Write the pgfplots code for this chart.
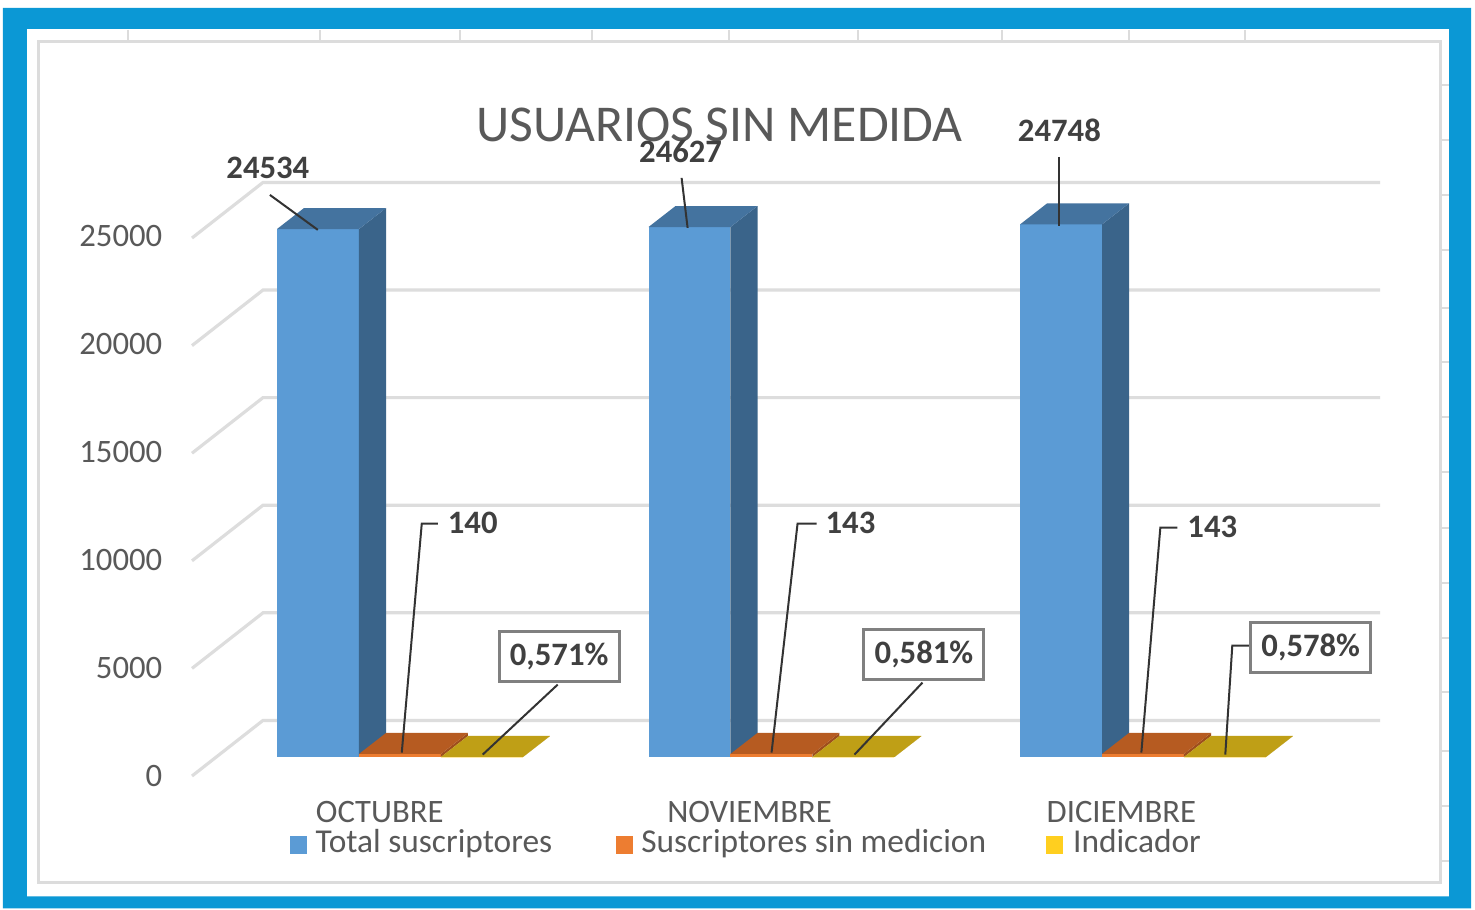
\documentclass[border=0pt]{standalone}
\usepackage{pgfplots}
\pgfplotsset{compat=1.18}
\usepackage{fontspec}
\setmainfont{Carlito}
\definecolor{frameblue}{HTML}{0B98D5}
\definecolor{bordergray}{HTML}{DCDCDC}
\definecolor{gridgray}{HTML}{DDDDDD}
\definecolor{txtgray}{HTML}{595959}
\definecolor{lblgray}{HTML}{404040}
\definecolor{boxgray}{HTML}{808080}
\definecolor{leader}{HTML}{333333}
\definecolor{bfront}{HTML}{5B9BD5}
\definecolor{bside}{HTML}{3A648A}
\definecolor{btop}{HTML}{44739F}
\definecolor{ofront}{HTML}{ED7D31}
\definecolor{oside}{HTML}{9E4E1C}
\definecolor{otop}{HTML}{B65B21}
\definecolor{yfront}{HTML}{FFC000}
\definecolor{yside}{HTML}{A08510}
\definecolor{ytop}{HTML}{BF9F16}
\definecolor{ylegend}{HTML}{FFCF1F}

\newcommand\fcalc[2]{\begingroup\pgfkeys{/pgf/fpu=true,/pgf/fpu/output format=fixed}\pgfmathparse{#2}\xdef#1{\pgfmathresult}\endgroup}
\def\bw{0.2207}\def\ddx{0.0727}\def\ddy{976}
% #1 left x, #2 value, #3 front, #4 side, #5 top
\newcommand\cube[5]{%
 \fcalc\xA{#1}\fcalc\xB{#1+\bw}\fcalc\xC{#1+\bw+\ddx}\fcalc\xD{#1+\ddx}%
 \fcalc\yT{#2}\fcalc\yTT{#2+\ddy}%
 \addplot[fill=#3,draw=none,forget plot] coordinates {(\xA,0) (\xB,0) (\xB,\yT) (\xA,\yT)};
 \addplot[fill=#4,draw=none,forget plot] coordinates {(\xB,0) (\xC,\ddy) (\xC,\yTT) (\xB,\yT)};
 \addplot[fill=#5,draw=none,forget plot] coordinates {(\xA,\yT) (\xB,\yT) (\xC,\yTT) (\xD,\yTT)};
}

\begin{document}
\begin{tikzpicture}
\fill[white] (0,0) rectangle (14.75,9.09);
\begin{axis}[at={(0,0)}, anchor=south west, scale only axis,
  width=14.75cm, height=9.09cm,
  xmin=-1.07402, xmax=2.89637, ymin=-7063, ymax=35178,
  hide axis, clip=false]
% back wall / side wall gridlines
\addplot[gridgray, line width=0.9pt, forget plot] coordinates {(-0.5572,-883) (-0.3661,1700) (2.6407,1700)};
\addplot[gridgray, line width=0.9pt, forget plot] coordinates {(-0.5572,4117) (-0.3661,6700) (2.6407,6700)};
\addplot[gridgray, line width=0.9pt, forget plot] coordinates {(-0.5572,9117) (-0.3661,11700) (2.6407,11700)};
\addplot[gridgray, line width=0.9pt, forget plot] coordinates {(-0.5572,14117) (-0.3661,16700) (2.6407,16700)};
\addplot[gridgray, line width=0.9pt, forget plot] coordinates {(-0.5572,19117) (-0.3661,21700) (2.6407,21700)};
\addplot[gridgray, line width=0.9pt, forget plot] coordinates {(-0.5572,24117) (-0.3661,26700) (2.6407,26700)};
% OCTUBRE
\cube{-0.3284}{24534}{bfront}{bside}{btop}
\cube{-0.1077}{140}{ofront}{oside}{otop}
\cube{0.1130}{0.571}{yfront}{yside}{ytop}
% NOVIEMBRE
\cube{0.6716}{24627}{bfront}{bside}{btop}
\cube{0.8923}{143}{ofront}{oside}{otop}
\cube{1.1130}{0.581}{yfront}{yside}{ytop}
% DICIEMBRE
\cube{1.6716}{24748}{bfront}{bside}{btop}
\cube{1.8923}{143}{ofront}{oside}{otop}
\cube{2.1130}{0.578}{yfront}{yside}{ytop}
\end{axis}

\begin{scope}[x=0.01cm, y=-0.01cm, shift={(0,9.09cm)}]
% frame
\fill[frameblue, even odd rule] (3,8) rectangle (1472,909) (27,29) rectangle (1450,897);
\draw[bordergray, line width=0.03cm] (38.5,41.5) rectangle (1441.5,883.5);
\foreach \x in {128,320,460,592,729,858,1003,1130,1246}
  \draw[bordergray, line width=0.02cm] (\x,30) -- (\x,40);
\foreach \y in {85,140,195,250,308,362,417,472,528,583,638,692,751,806,861}
  \draw[bordergray, line width=0.02cm] (1443,\y) -- (1450,\y);
% title
\node[text=txtgray, font=\fontsize{14.7}{17}\selectfont, inner sep=0pt] at (720,125) {USUARIOS SIN MEDIDA};
% y tick labels
\begin{scope}[every node/.style={anchor=east, text=txtgray, font=\fontsize{9.3}{11}\selectfont, inner sep=0pt}]
\node at (163,776) {0};
\node at (163,668) {5000};
\node at (163,560) {10000};
\node at (163,452) {15000};
\node at (163,344) {20000};
\node at (163,236) {25000};
\end{scope}
% category labels
\begin{scope}[every node/.style={anchor=base, text=txtgray, font=\fontsize{9.3}{11}\selectfont, inner sep=0pt}]
\node at (380,823) {OCTUBRE};
\node at (750,823) {NOVIEMBRE};
\node at (1122,823) {DICIEMBRE};
\end{scope}
% legend
\fill[bfront] (290,836) rectangle (307,854);
\fill[ofront] (616,836) rectangle (633,854);
\fill[ylegend] (1047,836) rectangle (1064,854);
\begin{scope}[every node/.style={anchor=base west, text=txtgray, font=\fontsize{9.5}{11}\selectfont, inner sep=0pt}]
\node at (315,853) {Total suscriptores};
\node at (641,853) {Suscriptores sin medicion};
\node at (1073,853) {Indicador};
\end{scope}
% leader lines
\begin{scope}[leader, line width=0.02cm]
\draw (270,195) -- (318,230);
\draw (682,178) -- (688,228);
\draw (1060,157) -- (1060,226);
\draw (438,524) -- (422,524) -- (402,753);
\draw (817,524) -- (798,524) -- (772,753);
\draw (1178,528) -- (1161,528) -- (1142,753);
\draw (558,685) -- (483,755);
\draw (923,683) -- (855,755);
\draw (1250,646) -- (1233,646) -- (1226,755);
\end{scope}
% data labels
\begin{scope}[every node/.style={text=lblgray, font=\fontsize{9.3}{11}\selectfont\bfseries, inner sep=0pt}]
\node at (268,168) {24534};
\node at (681,152) {24627};
\node at (1060,130) {24748};
\node at (473,523) {140};
\node at (851,523) {143};
\node at (1213,527) {143};
\end{scope}
\begin{scope}[every node/.style={text=lblgray, font=\fontsize{9.3}{11}\selectfont\bfseries, draw=boxgray, line width=0.03cm, fill=white, minimum width=1.2cm, minimum height=0.5cm, inner sep=0pt}]
\node at (559.5,656.5) {0,571\%};
\node at (924.5,654.5) {0,581\%};
\node at (1311.5,648) {0,578\%};
\end{scope}
\end{scope}
\end{tikzpicture}
\end{document}
